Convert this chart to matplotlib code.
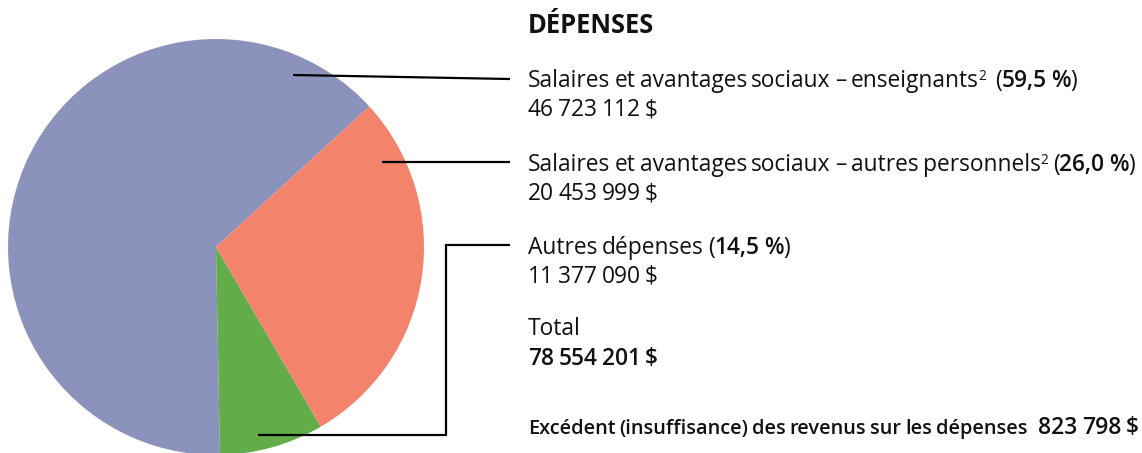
import matplotlib
matplotlib.use("Agg")
import matplotlib.pyplot as plt

# ---- data ----
categories = ["Salaires et avantages sociaux – enseignants",
              "Salaires et avantages sociaux – autres personnels",
              "Autres dépenses"]
amount_labels = ["46 723 112 $", "20 453 999 $", "11 377 090 $"]
pct_labels = ["59,5 %", "26,0 %", "14,5 %"]
# slice shares as drawn in the picture (%), counter-clockwise order: blue, green, orange
slice_shares = [63.5, 8.1, 28.4]
slice_colors = ["#8B93BD", "#62AC4A", "#F4836B"]
title = "DÉPENSES"
total_label = "Total"
total_value = "78 554 201 $"
surplus_label = "Excédent (insuffisance) des revenus sur les dépenses"
surplus_value = "823 798 $"

W, H = 1142, 453
fig = plt.figure(figsize=(W / 100, H / 100), dpi=100)
FONT = "Open Sans"
TXT = "#111111"

# pie axes: center (216,247) px, radius 208 px
cx, cy, r = 216, 247, 208
pax = fig.add_axes([(cx - r) / W, (H - cy - r) / H, 2 * r / W, 2 * r / H])
pax.pie(slice_shares, colors=slice_colors, startangle=42.5, counterclock=True,
        radius=1, wedgeprops=dict(linewidth=0))
pax.set_xlim(-1, 1)
pax.set_ylim(-1, 1)
pax.set_aspect("equal")
pax.axis("off")
for p in pax.patches:
    p.set_clip_on(False)

# overlay axes in pixel coords (y down)
ox = fig.add_axes([0, 0, 1, 1], facecolor="none")
ox.set_xlim(0, W)
ox.set_ylim(H, 0)
ox.axis("off")

lw = 1.6
ox.plot([293, 510], [75, 79], color="black", lw=lw, solid_capstyle="butt")
ox.plot([382, 510], [162, 162], color="black", lw=lw, solid_capstyle="butt")
ox.plot([258, 446, 446, 510], [435, 435, 245, 245], color="black", lw=lw,
        solid_capstyle="butt", solid_joinstyle="miter")

renderer = fig.canvas.get_renderer()
SPACE = 0.19  # word gap in em


def runs(x, y, parts, size, draw=True):
    """parts: list of (text, weight, size_factor, raise_px). Words placed with a tight gap."""
    start = x
    created = []
    for txt, weight, sf, rise in parts:
        fs = size * sf
        gap = SPACE * fs * 100 / 72
        words = txt.split(" ")
        for i, w in enumerate(words):
            if i > 0:
                x += gap
            if w == "":
                continue
            t = ox.text(x, y - rise, w, fontsize=fs, family=FONT,
                        fontweight=weight, ha="left", va="baseline", color=TXT)
            x += t.get_window_extent(renderer=renderer).width
            created.append(t)
    if not draw:
        for t in created:
            t.remove()
    return x - start


def fit(parts, target, size0=15):
    w = runs(0, -100, parts, size0, draw=False)
    return size0 * target / w


N, SB, B = "normal", "semibold", "bold"
X0 = 528
line1 = [(categories[0], N, 1, 0), ("2", N, 0.6, 7),
         ("  (", N, 1, 0), (pct_labels[0], SB, 1, 0), (")", N, 1, 0)]
line2 = [(categories[1], N, 1, 0), ("2", N, 0.6, 7),
         (" (", N, 1, 0), (pct_labels[1], SB, 1, 0), (")", N, 1, 0)]
surplus = [(surplus_label + "   ", SB, 0.92, 0), (surplus_value, SB, 1.05, 0)]
title_parts = [(title, B, 1, 0)]

FS = fit(line2, 610)
FS_T = fit(title_parts, 127)
FS_S = fit(surplus, 610)

runs(X0, 33, title_parts, FS_T)
runs(X0, 87, line1, FS)
runs(X0, 116, [(amount_labels[0], N, 1, 0)], FS)
runs(X0, 171, line2, FS)
runs(X0, 200, [(amount_labels[1], N, 1, 0)], FS)
runs(X0, 254, [(categories[2] + " (", N, 1, 0), (pct_labels[2], SB, 1, 0),
               (")", N, 1, 0)], FS)
runs(X0, 283, [(amount_labels[2], N, 1, 0)], FS)
runs(X0, 335, [(total_label, N, 1, 0)], FS)
runs(X0, 365, [(total_value, SB, 1, 0)], FS)
runs(X0, 434, surplus, FS_S)

fig.savefig("out.png", dpi=100)
